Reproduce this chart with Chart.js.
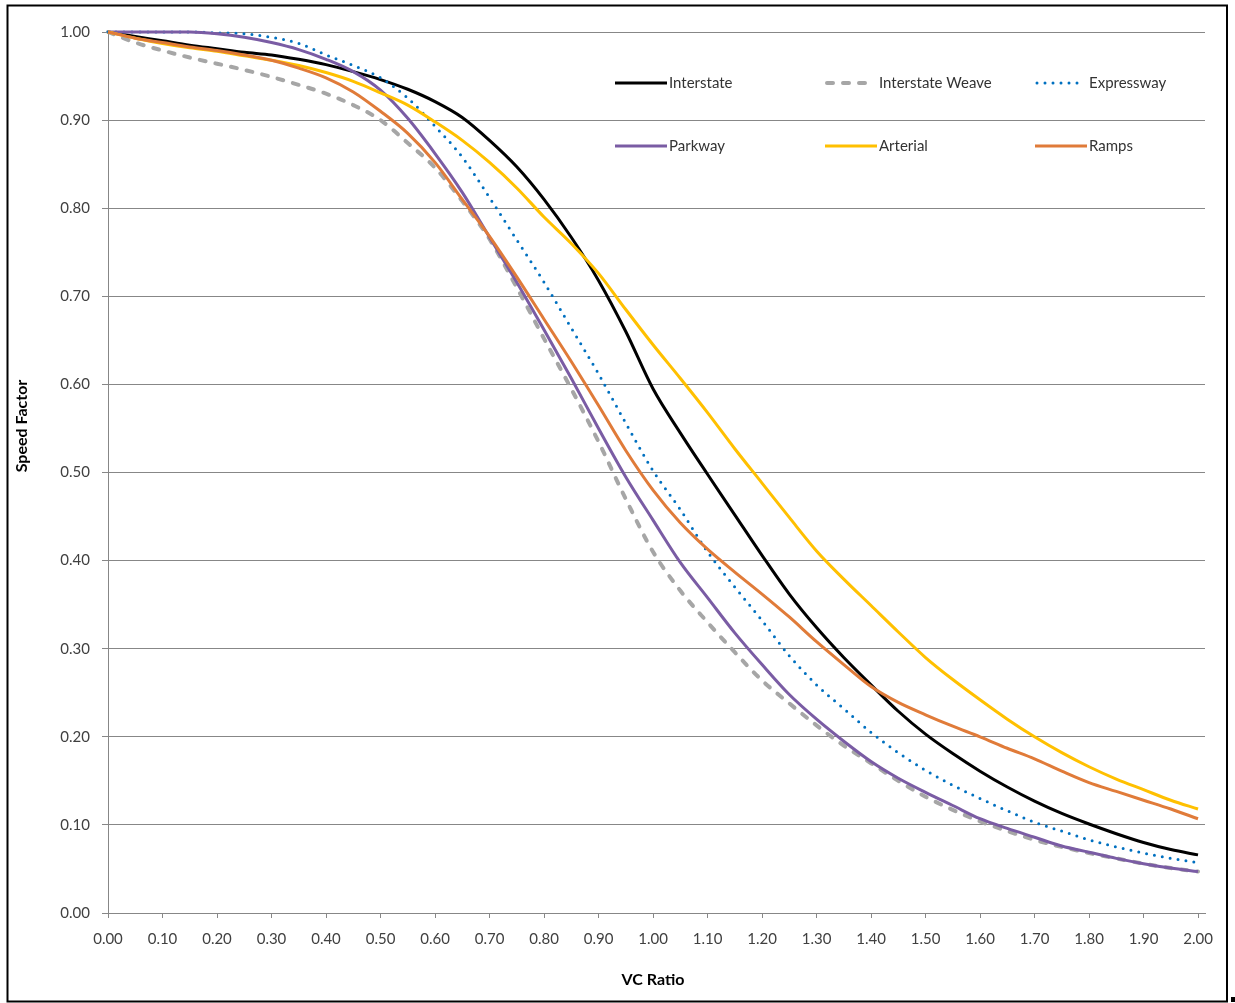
<!DOCTYPE html>
<html>
<head>
<meta charset="utf-8">
<script src="https://cdn.jsdelivr.net/npm/chart.js@4.4.1/dist/chart.umd.min.js"></script>
<style>
html,body{margin:0;padding:0;background:#fff;}
#wrap{position:relative;width:1235px;height:1003px;}
</style>
</head>
<body>
<div id="wrap"><canvas id="c" width="1235" height="1003"></canvas></div>
<script>
// ---- data ----
const vcRatio = [0.00,0.05,0.10,0.15,0.20,0.25,0.30,0.35,0.40,0.45,0.50,0.55,0.60,0.65,0.70,0.75,0.80,0.85,0.90,0.95,1.00,1.05,1.10,1.15,1.20,1.25,1.30,1.35,1.40,1.45,1.50,1.55,1.60,1.65,1.70,1.75,1.80,1.85,1.90,1.95,2.00];

const interstate = [1.000,0.995,0.990,0.985,0.981,0.977,0.974,0.969,0.963,0.955,0.946,0.935,0.921,0.903,0.877,0.847,0.810,0.767,0.718,0.660,0.595,0.545,0.498,0.452,0.406,0.362,0.324,0.290,0.259,0.229,0.203,0.181,0.161,0.143,0.127,0.113,0.101,0.090,0.080,0.072,0.066];

const interstateWeave = [1.000,0.988,0.979,0.971,0.964,0.957,0.949,0.940,0.930,0.917,0.900,0.874,0.846,0.808,0.765,0.710,0.652,0.595,0.535,0.470,0.410,0.366,0.330,0.296,0.264,0.238,0.213,0.190,0.170,0.150,0.132,0.117,0.104,0.093,0.083,0.075,0.068,0.062,0.056,0.051,0.047];

const expressway = [1.000,1.000,1.000,1.000,0.999,0.998,0.994,0.987,0.974,0.962,0.948,0.925,0.893,0.858,0.812,0.764,0.716,0.664,0.612,0.556,0.502,0.458,0.410,0.370,0.332,0.292,0.259,0.232,0.205,0.182,0.162,0.145,0.130,0.116,0.103,0.093,0.083,0.075,0.068,0.062,0.057];

const parkway = [1.000,1.000,1.000,1.000,0.998,0.994,0.988,0.980,0.969,0.955,0.934,0.902,0.862,0.818,0.767,0.716,0.662,0.607,0.550,0.495,0.446,0.398,0.358,0.318,0.282,0.248,0.220,0.195,0.172,0.153,0.137,0.122,0.107,0.096,0.086,0.076,0.069,0.062,0.056,0.051,0.047];

const arterial = [1.000,0.993,0.987,0.982,0.978,0.973,0.968,0.962,0.954,0.944,0.931,0.917,0.898,0.877,0.852,0.823,0.790,0.760,0.726,0.685,0.645,0.607,0.568,0.527,0.488,0.449,0.411,0.379,0.349,0.319,0.290,0.265,0.242,0.220,0.200,0.182,0.166,0.152,0.140,0.128,0.118];

const ramps = [1.000,0.993,0.988,0.983,0.979,0.974,0.968,0.959,0.948,0.932,0.910,0.885,0.852,0.810,0.768,0.722,0.674,0.626,0.576,0.525,0.480,0.443,0.413,0.387,0.362,0.336,0.308,0.282,0.257,0.239,0.225,0.212,0.200,0.187,0.175,0.161,0.148,0.138,0.128,0.118,0.107];

const seriesNames = ["Interstate","Interstate Weave","Expressway","Parkway","Arterial","Ramps"];
const yTickValues = [0.0,0.1,0.2,0.3,0.4,0.5,0.6,0.7,0.8,0.9,1.0];
const xAxisTitle = "VC Ratio";
const yAxisTitle = "Speed Factor";

// ---- styles ----
const styles = [
  {color:"#000000", width:3, dash:[], cap:"butt"},
  {color:"#A6A6A6", width:4, dash:[6,10], cap:"round"},
  {color:"#0070C0", width:3, dash:[0,8], cap:"round"},
  {color:"#7A5CA4", width:3, dash:[], cap:"butt"},
  {color:"#FFC000", width:3, dash:[], cap:"butt"},
  {color:"#E07B39", width:3, dash:[], cap:"butt"}
];
const seriesValues = [interstate, interstateWeave, expressway, parkway, arterial, ramps];

const datasets = seriesValues.map((vals, i) => ({
  label: seriesNames[i],
  data: vcRatio.map((x, j) => ({x: x, y: vals[j]})),
  borderColor: styles[i].color,
  backgroundColor: styles[i].color,
  borderWidth: styles[i].width,
  borderDash: styles[i].dash,
  borderCapStyle: styles[i].cap,
  borderJoinStyle: "round",
  pointRadius: 0,
  fill: false,
  cubicInterpolationMode: "monotone",
  clip: 6,
  order: seriesValues.length - i
}));

const FONT = "Lato, 'Open Sans', 'DejaVu Sans', sans-serif";
const GRID = "#878787";

const overlay = {
  id: "overlay",
  beforeDraw(chart) {
    const ctx = chart.ctx;
    ctx.save();
    ctx.fillStyle = "#ffffff";
    ctx.fillRect(0, 0, chart.width, chart.height);
    ctx.restore();
  },
  afterDraw(chart) {
    const ctx = chart.ctx;
    ctx.save();
    // outer frame
    ctx.strokeStyle = "#000";
    ctx.lineWidth = 2;
    ctx.strokeRect(7.5, 5.5, 1219.5, 996);
    ctx.fillStyle = "#000";
    ctx.fillRect(1231, 997, 4, 5);

    // axis titles
    ctx.fillStyle = "#000";
    ctx.font = "bold 16px " + FONT;
    ctx.textAlign = "center";
    ctx.textBaseline = "middle";
    ctx.fillText(xAxisTitle, 653, 980);
    ctx.save();
    ctx.translate(22, 426);
    ctx.rotate(-Math.PI / 2);
    ctx.fillText(yAxisTitle, 0, 0);
    ctx.restore();

    // legend (two rows of three)
    const cols = [615, 825, 1035];
    const rows = [83, 146];
    ctx.font = "15px " + FONT;
    ctx.textAlign = "left";
    ctx.textBaseline = "middle";
    chart.data.datasets.forEach((ds, i) => {
      const x = cols[i % 3];
      const y = rows[Math.floor(i / 3)];
      ctx.save();
      ctx.strokeStyle = ds.borderColor;
      ctx.lineWidth = ds.borderWidth;
      ctx.lineCap = ds.borderCapStyle;
      ctx.setLineDash(ds.borderDash);
      ctx.beginPath();
      const inset = ds.borderCapStyle === "round" && ds.borderDash.length ? 2 : 0;
      ctx.moveTo(x + inset, y);
      ctx.lineTo(x + 52 - inset, y);
      ctx.stroke();
      ctx.restore();
      ctx.fillStyle = "#333333";
      ctx.fillText(ds.label, x + 54, y);
    });
    ctx.restore();
  }
};

new Chart(document.getElementById("c"), {
  type: "line",
  data: { datasets: datasets },
  plugins: [overlay],
  options: {
    responsive: false,
    animation: false,
    events: [],
    layout: { padding: { left: 0, top: 32, right: 30, bottom: 0 } },
    plugins: { legend: { display: false }, tooltip: { enabled: false } },
    scales: {
      x: {
        type: "linear",
        min: 0,
        max: 2.0128,
        afterBuildTicks(scale) {
          scale.ticks = vcRatio.filter((v, i) => i % 2 === 0).map(v => ({ value: v }));
        },
        afterFit(scale) { scale.height = 90; },
        grid: { drawOnChartArea: false, drawTicks: true, tickLength: 5, color: GRID, lineWidth: 1 },
        border: { display: true, color: GRID, width: 1 },
        ticks: {
          autoSkip: false, maxRotation: 0, minRotation: 0, padding: 12,
          color: "#404040", font: { family: FONT, size: 15 },
          callback: v => Number(v).toFixed(2)
        }
      },
      y: {
        type: "linear",
        min: 0,
        max: 1,
        afterBuildTicks(scale) {
          scale.ticks = yTickValues.map(v => ({ value: v }));
        },
        afterFit(scale) { scale.width = 108; },
        grid: { drawOnChartArea: true, drawTicks: true, tickLength: 6, color: GRID, lineWidth: 1 },
        border: { display: true, color: GRID, width: 1 },
        ticks: {
          padding: 12,
          color: "#404040", font: { family: FONT, size: 15 },
          callback: v => Number(v).toFixed(2)
        }
      }
    }
  }
});
</script>
</body>
</html>
